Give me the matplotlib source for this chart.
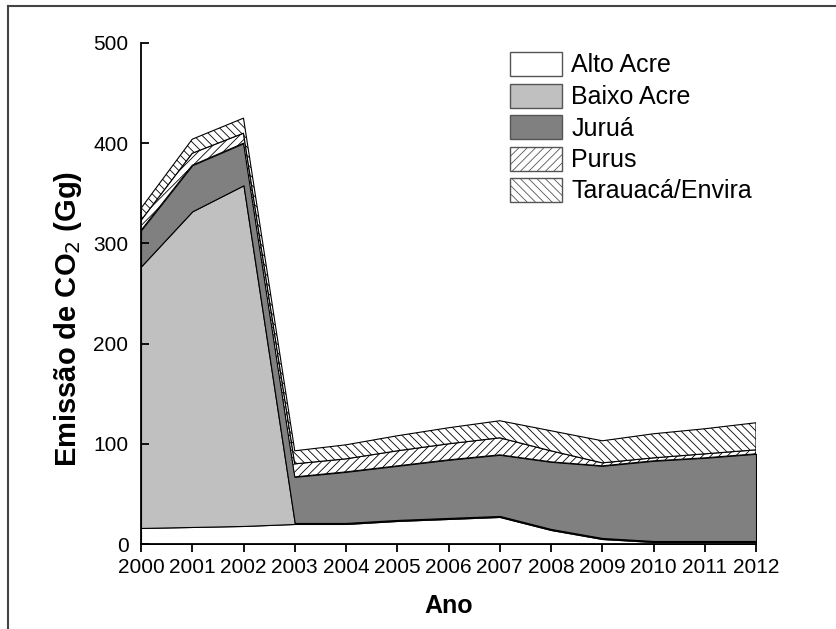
import numpy as np
import matplotlib
matplotlib.use("Agg")
import matplotlib.pyplot as plt
from matplotlib.patches import Patch
from matplotlib.lines import Line2D

plt.rcParams['font.family'] = ['Liberation Sans', 'DejaVu Sans']
plt.rcParams['hatch.linewidth'] = 0.6

anos = [2000, 2001, 2002, 2003, 2004, 2005, 2006, 2007, 2008, 2009, 2010, 2011, 2012]

# emissions per region (Gg CO2), stacked bottom to top
alto_acre = [16, 17, 18, 20, 20, 23, 25, 27, 14, 5, 2, 2, 2]
baixo_acre = [261, 315, 340, 1, 1, 1, 1, 1, 1, 1, 1, 1, 1]
jurua = [36, 46, 42, 46, 51, 54, 58, 61, 67, 72, 80, 83, 87]
purus = [10, 12, 10, 13, 13, 15, 16, 17, 11, 3, 3, 4, 4]
tarauaca = [12, 14, 15, 13, 14, 15, 16, 17, 20, 22, 24, 25, 27]

regioes = ['Alto Acre', 'Baixo Acre', 'Juruá', 'Purus', 'Tarauacá/Envira']
series = [alto_acre, baixo_acre, jurua, purus, tarauaca]
cores = ['white', '#c0c0c0', '#808080', 'white', 'white']
hatches = [None, None, None, '////', '\\\\\\\\']

W, H = 837, 629
fig = plt.figure(figsize=(W / 100, H / 100), dpi=100)
ax = fig.add_axes([141 / W, 1 - 544 / H, (756 - 141) / W, (544 - 43) / H])

x = np.array(anos)
base = np.zeros(len(anos))
for nome, vals, cor, h in zip(regioes, series, cores, hatches):
    topo = base + np.array(vals)
    ax.fill_between(x, base, topo, facecolor=cor, edgecolor='black',
                    linewidth=0.8, hatch=h)
    base = topo

ax.set_xlim(2000, 2012)
ax.set_ylim(0, 500)
ax.set_xticks(anos)
ax.set_yticks([0, 100, 200, 300, 400, 500])
for s in ['top', 'right']:
    ax.spines[s].set_visible(False)
for s in ['left', 'bottom']:
    ax.spines[s].set_linewidth(1.3)
ax.tick_params(axis='x', direction='out', length=6, width=1.3, pad=4, labelsize=15)
ax.tick_params(axis='y', direction='in', length=6, width=1.3, pad=9, labelsize=15)

ax.set_xlabel('Ano', fontsize=18, fontweight='bold', labelpad=12)
ax.set_ylabel('Emissão de CO$_2$ (Gg)', fontsize=21, fontweight='bold')
ax.yaxis.set_label_coords(-0.093, 0.45)

handles = [Patch(facecolor=c, edgecolor='#555555', hatch=h, linewidth=1.0)
           for c, h in zip(cores, hatches)]
fs = 18
fig.legend(handles, regioes, loc='upper left',
           bbox_to_anchor=(510 / W, 1 - 52 / H), frameon=False,
           fontsize=fs, handlelength=2.1, handleheight=1.1,
           handletextpad=0.35, labelspacing=0.24, borderpad=0, borderaxespad=0)

# outer frame (only left and top visible in the cropped picture)
fig.add_artist(Line2D([8 / W, 8 / W], [0, 1 - 6 / H], color='#444444', lw=1.5))
fig.add_artist(Line2D([8 / W, 1], [1 - 6 / H, 1 - 6 / H], color='#444444', lw=1.5))

fig.savefig('out.png', dpi=100)
